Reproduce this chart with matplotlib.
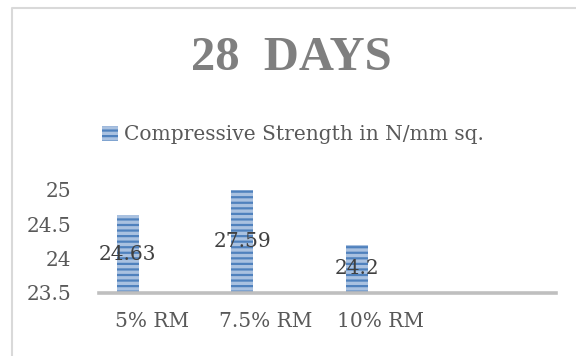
import matplotlib
matplotlib.use("Agg")
import matplotlib.pyplot as plt
from matplotlib.lines import Line2D
from matplotlib.transforms import ScaledTranslation

# Chart data
categories = ["5% RM", "7.5% RM", "10% RM"]
strength = [24.63, 27.59, 24.2]
series_name = "Compressive Strength in N/mm sq."
title = "28  DAYS"
y_ticks = [23.5, 24, 24.5, 25]

BODY_FONT = "DejaVu Serif"
TITLE_FONT = "Liberation Serif"
TEXT_GRAY = "#595959"
LABEL_GRAY = "#404040"
BAR_FACE = "#A9C1E0"
BAR_STRIPE = "#4F81BD"
FS = 14.5

plt.rcParams["hatch.linewidth"] = 1.6

fig = plt.figure(figsize=(5.76, 3.56), dpi=100)
ax = fig.add_axes([99 / 576, 1 - 293 / 356, (556 - 99) / 576, (293 - 190) / 356])

x = list(range(len(categories)))
bars = ax.bar(x, strength, width=0.19, bottom=0, color=BAR_FACE,
              edgecolor=BAR_STRIPE, linewidth=0, hatch="---", zorder=2)

ymin, ymax = y_ticks[0], y_ticks[-1]
ax.set_ylim(ymin, ymax)
ax.set_xlim(-0.25, 3.74)

# value labels centred on the visible part of each bar
for xi, v in zip(x, strength):
    yc = (ymin + min(v, ymax)) / 2
    ax.text(xi, yc, f"{v:g}", ha="center", va="center", fontsize=FS,
            family=BODY_FONT, color=LABEL_GRAY, zorder=3)

ax.set_yticks(y_ticks)
ax.set_yticklabels([f"{t:g}" for t in y_ticks], family=BODY_FONT,
                   fontsize=FS, color=TEXT_GRAY)
ax.set_xticks(x)
ax.set_xticklabels(categories, family=BODY_FONT, fontsize=FS, color=TEXT_GRAY)
ax.tick_params(axis="y", length=0, pad=20)
ax.tick_params(axis="x", length=0, pad=14)
shift = ScaledTranslation(0.24, 0, fig.dpi_scale_trans)
for lbl in ax.get_xticklabels():
    lbl.set_transform(lbl.get_transform() + shift)

for side in ("top", "right", "left"):
    ax.spines[side].set_visible(False)
ax.spines["bottom"].set_color("#BFBFBF")
ax.spines["bottom"].set_linewidth(2.6)
ax.spines["bottom"].set_zorder(4)

# title
fig.text(291 / 576, 1 - 58 / 356, title, ha="center", va="center",
         fontsize=35, fontweight="bold", family=TITLE_FONT, color="#7F7F7F")

# legend
leg = fig.legend([bars[0]], [series_name], loc="center",
                 bbox_to_anchor=(293 / 576, 1 - 135 / 356), frameon=False,
                 prop={"family": BODY_FONT, "size": FS},
                 handlelength=0.75, handleheight=0.75, handletextpad=0.3)
for t in leg.get_texts():
    t.set_color(TEXT_GRAY)

# chart area border (top and left edges only are in view)
bx, by = 11.5 / 576, 1 - 7.5 / 356
fig.add_artist(Line2D([bx, bx, 1.0], [0.0, by, by], transform=fig.transFigure,
                      color="#D9D9D9", linewidth=1.5))

fig.savefig("out.png", dpi=100)
